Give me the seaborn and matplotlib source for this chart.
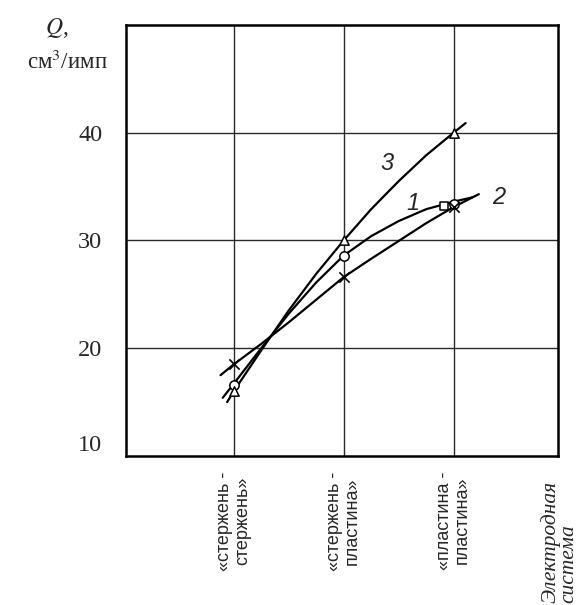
import numpy as np
import pandas as pd
import matplotlib

matplotlib.use("Agg")
import matplotlib.pyplot as plt
from matplotlib.transforms import ScaledTranslation
import seaborn as sns

# electrode systems (x categories)
systems = ["«стержень -\nстержень»", "«стержень -\nпластина»", "«пластина -\nпластина»"]
y_ticks = [10, 20, 30, 40]

# curves (x in category units, Q in cm3/imp)
c1_x = [-0.10, 0.0, 0.25, 0.50, 0.75, 1.0, 1.25, 1.50, 1.75, 2.0, 2.17]
c1_y = [15.4, 16.7, 20.0, 23.2, 26.1, 28.6, 30.4, 31.8, 32.9, 33.6, 34.0]
c2_x = [-0.12, 0.0, 0.25, 0.50, 0.75, 1.0, 1.25, 1.50, 1.75, 2.0, 2.23]
c2_y = [17.5, 18.5, 20.4, 22.4, 24.5, 26.6, 28.3, 29.95, 31.6, 33.1, 34.3]
c3_x = [-0.06, 0.0, 0.25, 0.50, 0.75, 1.0, 1.25, 1.50, 1.75, 2.0, 2.11]
c3_y = [15.0, 16.0, 19.8, 23.5, 26.9, 30.0, 32.9, 35.5, 37.9, 40.0, 40.9]

# measured points
m_x = [0, 1, 2]
m1_y = [16.6, 28.6, 33.4]
m2_y = [18.5, 26.6, 33.1]
m3_y = [16.0, 30.0, 40.0]
sq_x = [1.91]
sq_y = [33.2]

sns.set_style("white")
plt.rcParams["font.family"] = ["Liberation Serif", "DejaVu Serif"]
plt.rcParams["mathtext.fontset"] = "stix"

fig = plt.figure(figsize=(5.79, 6.05), dpi=100)
ax = fig.add_axes([0.2176, 0.2463, 0.7461, 0.7124])

curves = pd.concat([
    pd.DataFrame({"x": c1_x, "y": c1_y, "curve": "1"}),
    pd.DataFrame({"x": c2_x, "y": c2_y, "curve": "2"}),
    pd.DataFrame({"x": c3_x, "y": c3_y, "curve": "3"}),
])
sns.lineplot(data=curves, x="x", y="y", units="curve", estimator=None, sort=False,
             color="black", linewidth=1.6, ax=ax, zorder=3)

sns.scatterplot(x=m_x, y=m1_y, marker="o", s=45, facecolor="white",
                edgecolor="black", linewidth=1.1, ax=ax, zorder=4)
sns.scatterplot(x=m_x, y=m3_y, marker="^", s=45, facecolor="white",
                edgecolor="black", linewidth=1.1, ax=ax, zorder=4)
sns.scatterplot(x=sq_x, y=sq_y, marker="s", s=35, facecolor="white",
                edgecolor="black", linewidth=1.1, ax=ax, zorder=4)
ax.scatter(m_x, m2_y, marker="x", s=55, color="black", linewidth=1.2, zorder=4)

ax.set_xlim(-0.98, 2.95)
ax.set_ylim(10, 50)
ax.set_xlabel("")
ax.set_ylabel("")

ax.set_xticks([0, 1, 2])
ax.set_xticklabels(systems, rotation=90, va="top", ha="center", multialignment="center",
                   family="Liberation Sans", fontsize=13, linespacing=1.05)
ax.set_yticks(y_ticks)
ax.set_yticklabels([str(t) for t in y_ticks], fontsize=17.5)
ax.tick_params(axis="both", length=0)
ax.tick_params(axis="x", pad=11)
ax.tick_params(axis="y", pad=17)

# "10" sits a bit above the bottom edge
lab10 = ax.get_yticklabels()[0]
lab10.set_transform(lab10.get_transform() + ScaledTranslation(0, 0.13, fig.dpi_scale_trans))

for x in [0, 1, 2]:
    ax.axvline(x, color="#2a2a2a", linewidth=1.0, zorder=1)
for y in [20, 30, 40]:
    ax.axhline(y, color="#2a2a2a", linewidth=1.0, zorder=1)

for s in ax.spines.values():
    s.set_color("black")
    s.set_linewidth(1.8)

# curve numbers
ax.text(1.39, 37.1, "3", fontsize=17, style="italic", family="Liberation Sans",
        ha="center", va="center")
ax.text(1.63, 33.4, "1", fontsize=17, style="italic", family="Liberation Sans",
        ha="center", va="center")
ax.text(2.41, 34.0, "2", fontsize=17, style="italic", family="Liberation Sans",
        ha="center", va="center")

# axis titles
fig.text(57 / 579, 1 - 28 / 605, "$Q$,", fontsize=17, ha="center", va="center")
fig.text(67 / 579, 1 - 62 / 605, "см$^3$/имп", fontsize=16.5, ha="center", va="center")
ax.text(1.003, -0.34, "Электродная\nсистема", transform=ax.transAxes, rotation=90,
        fontsize=15.5, style="italic", ha="center", va="bottom", multialignment="left",
        linespacing=0.95)

fig.savefig("out.png", dpi=100)
plt.close(fig)
